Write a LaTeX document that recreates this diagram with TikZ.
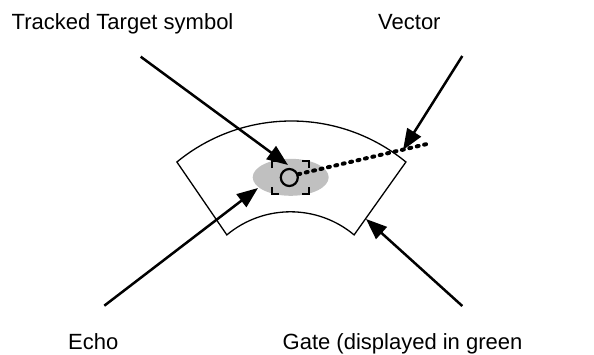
\documentclass[tikz,border=0pt]{standalone}
\usepackage{fontspec}
\setmainfont{Liberation Sans}
\usetikzlibrary{arrows.meta,shapes.geometric}
\definecolor{echogray}{RGB}{192,192,192}
\tikzset{
  lbl/.style={anchor=base west, inner sep=0pt, font=\fontsize{22}{26}\selectfont},
  pointer/.style={line width=2.5pt, -{Triangle[length=21pt,width=16pt]}},
  gateline/.style={line width=1.3pt, line join=miter},
  symline/.style={line width=2.2pt},
  vecline/.style={line width=4pt, line cap=round, dash pattern=on 2pt off 5.6pt}
}
\begin{document}
\begin{tikzpicture}[x=1pt,y=1pt]
\useasboundingbox (0,0) rectangle (594,354);
% labels
\node[lbl] (ttlabel) at (11.5,324.5) {Tracked Target symbol};
\node[lbl] (veclabel) at (378,324.5) {Vector};
\node[lbl] (echolabel) at (68,5) {Echo};
\node[lbl] (gatelabel) at (282.5,5) {Gate (displayed in green};
% gate
\draw[gateline] (176.9,192) arc[start angle=129.4,end angle=50.6,radius=180.4]
  -- (354.1,119.1) arc[start angle=50.1,end angle=129.9,radius=99.2] -- cycle;
% echo
\node[fill=echogray, ellipse, minimum width=76pt, minimum height=37pt, inner sep=0pt] (echo) at (290.7,176.7) {};
% target symbol
\node[draw, circle, symline, minimum size=17pt, inner sep=0pt] (target) at (289.3,176.5) {};
\draw[symline] (272,186) -- (272,193) -- (279,193);
\draw[symline] (302,193) -- (309,193) -- (309,186);
\draw[symline] (272,167) -- (272,160) -- (279,160);
\draw[symline] (302,160) -- (309,160) -- (309,167);
% vector
\coordinate (vecend) at (427,210);
\draw[vecline] (target.20) -- (vecend);
% arrows
\coordinate (ttstart) at (140.7,297.3);
\coordinate (ttTip) at (288,189);
\coordinate (vecstart) at (462.3,298);
\coordinate (vecTip) at (403,204);
\coordinate (echostart) at (104.3,48.3);
\coordinate (echoTip) at (258,166);
\coordinate (gatestart) at (462.3,48);
\coordinate (gateTip) at (366,135);
\draw[pointer] (ttstart) -- (ttTip);
\draw[pointer] (vecstart) -- (vecTip);
\draw[pointer] (echostart) -- (echoTip);
\draw[pointer] (gatestart) -- (gateTip);
\end{tikzpicture}
\end{document}
